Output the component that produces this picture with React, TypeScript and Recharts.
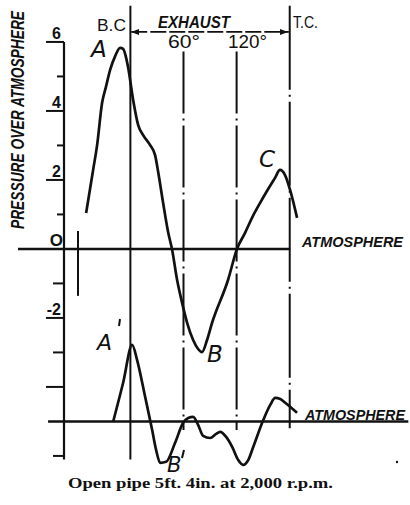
import React from "react";
import { LineChart, Line, XAxis, YAxis, ReferenceLine } from "recharts";

// crank angle in degrees (0 = B.C., 180 = T.C.) and pressure over atmosphere
const upperDeg = [-50, -42.1, -37.6, -32, -27.4, -22.9, -17.2, -11.6, -8.2, -4.8, -2.5, 3.1, 8.8, 14.4, 22.3, 27.9, 31.4, 37, 42.6, 47.2, 52.8, 58.5, 64.1, 70.9, 76.5, 81, 86.6, 92.3, 110.3, 120.4, 129.4, 138.5, 146.4, 154.3, 163.4, 169, 174.7, 180.4, 188.3];
const upperP = [1.04, 2.29, 3.01, 4.23, 4.72, 5.19, 5.59, 5.83, 5.8, 5.54, 5.25, 4.32, 3.59, 3.3, 3.01, 2.72, 2.23, 1.33, 0.49, -0.03, -0.9, -1.57, -2.14, -2.64, -2.9, -2.99, -2.64, -2.14, -0.9, 0, 0.46, 0.96, 1.33, 1.68, 2.06, 2.29, 2.14, 1.71, 0.9];

// lower diagram (its atmosphere line sits at -5 on the same scale)
const lowerDeg = [-19.5, -8.2, 2, 7.6, 16.7, 24.6, 29.1, 33.6, 40.4, 50.5, 59.6, 65.3, 70.9, 76.5, 82.2, 90.1, 96.9, 101.4, 108.2, 115, 121.8, 127.4, 133.1, 138.8, 150.1, 158, 163.6, 169.3, 174.9, 188.3];
const lowerP = [-5.01, -3.88, -2.78, -3.22, -4.29, -5.25, -5.83, -6.2, -6.17, -5.62, -5.04, -4.9, -4.87, -5.1, -5.42, -5.48, -5.36, -5.3, -5.45, -5.74, -6.12, -6.26, -6.12, -5.74, -4.96, -4.52, -4.32, -4.35, -4.46, -4.75];

const yTicks = [6, 5, 4, 3, 2, 1, 0, -1, -2, -3, -4, -6];
const yTickLabels: Record<string, string> = { "6": "6", "4": "4", "2": "2", "0": "O", "-2": "-2" };
const guideDegs = [60, 120];

const upperData = upperDeg.map((d, i) => ({ deg: d, p: upperP[i] }));
const lowerData = lowerDeg.map((d, i) => ({ deg: d, p: lowerP[i] }));

const W = 410;
const H = 505;
const PLOT_LEFT = 64;
const INK = "#111";

const tickLen = (v: number) => {
  if (v === 0) return 0;
  if (v === 6 || v === 4 || v === 2 || v === -2 || v === -4) return 18;
  if (v === -3 || v === -6 || v === -1) return 11;
  return 7;
};

const YTick = (props: any) => {
  const { y, payload } = props;
  const v = Number(payload.value);
  const len = tickLen(v);
  const label = yTickLabels[String(v)];
  return (
    <g>
      {len > 0 && (
        <line x1={PLOT_LEFT - len} x2={PLOT_LEFT} y1={y} y2={y} stroke={INK} strokeWidth={2} />
      )}
      {label && (
        <text
          x={v === 0 ? 63 : 61}
          y={y - 3}
          textAnchor="end"
          fontFamily="Liberation Sans, Arial, sans-serif"
          fontWeight="bold"
          fontSize={v === 0 ? 17 : 16}
          fill={INK}
        >
          {label}
        </text>
      )}
    </g>
  );
};

const techFont = "Liberation Sans, Arial, sans-serif";
const letterFont = "DejaVu Sans, sans-serif";

export default function App() {
  return (
    <div style={{ position: "absolute", left: 0, top: 0, width: W, height: H, background: "#fff" }}>
      <LineChart width={W} height={H} margin={{ top: 4, right: 107, bottom: 37, left: 4 }}>
        <XAxis type="number" dataKey="deg" domain={[-75, 195]} allowDataOverflow hide />
        <YAxis
          type="number"
          dataKey="p"
          domain={[-6.35, 7.1]}
          allowDataOverflow
          ticks={yTicks}
          interval={0}
          width={60}
          axisLine={false}
          tickLine={false}
          tick={<YTick />}
        />
        {/* left axis */}
        <ReferenceLine segment={[{ x: -75, y: 6 }, { x: -75, y: -6.1 }]} stroke={INK} strokeWidth={2.2} ifOverflow="visible" />
        {/* atmosphere lines */}
        <ReferenceLine segment={[{ x: -127, y: 0 }, { x: 180.5, y: 0 }]} stroke={INK} strokeWidth={2.6} ifOverflow="visible" />
        <ReferenceLine segment={[{ x: -93, y: -5 }, { x: 314, y: -5 }]} stroke={INK} strokeWidth={2.4} ifOverflow="visible" />
        {/* small mark */}
        <ReferenceLine segment={[{ x: -59.2, y: 0.52 }, { x: -59.2, y: -1.36 }]} stroke={INK} strokeWidth={2} ifOverflow="visible" />
        {/* B.C. */}
        <ReferenceLine segment={[{ x: 0, y: 7.05 }, { x: 0, y: -6.1 }]} stroke={INK} strokeWidth={2} ifOverflow="visible" />
        {/* 60 and 120 */}
        {guideDegs.map((d) => (
          <ReferenceLine
            key={d}
            segment={[{ x: d, y: 5.72 }, { x: d, y: -5.25 }]}
            stroke={INK}
            strokeWidth={2}
            strokeDasharray="62 5 2 5"
            ifOverflow="visible"
          />
        ))}
        {/* T.C. */}
        <ReferenceLine
          segment={[{ x: 180, y: 7.05 }, { x: 180, y: -5.2 }]}
          stroke={INK}
          strokeWidth={2}
          strokeDasharray="84 5 2 5"
          ifOverflow="visible"
        />
        {/* exhaust arrow */}
        <ReferenceLine
          segment={[{ x: 1, y: 6.29 }, { x: 179, y: 6.29 }]}
          stroke={INK}
          strokeWidth={1.8}
          strokeDasharray="16 3"
          ifOverflow="visible"
        />
        <Line data={upperData} dataKey="p" type="monotone" stroke={INK} strokeWidth={2.7} dot={false} isAnimationActive={false} />
        <Line data={lowerData} dataKey="p" type="monotone" stroke={INK} strokeWidth={2.7} dot={false} isAnimationActive={false} />
      </LineChart>
      <svg
        width={W}
        height={H}
        style={{ position: "absolute", left: 0, top: 0, pointerEvents: "none" }}
      >
        {/* arrowheads */}
        <polygon points="131,32 139,29 139,35" fill={INK} />
        <polygon points="288,32 280,29 280,35" fill={INK} />
        {/* y title */}
        <g transform="translate(24,120) rotate(-90)">
          <text
            x={0}
            y={0}
            textAnchor="middle"
            fontFamily={techFont}
            fontWeight="bold"
            fontStyle="italic"
            fontSize={18}
            textLength={218}
            lengthAdjust="spacingAndGlyphs"
            fill={INK}
          >
            PRESSURE OVER ATMOSPHERE
          </text>
        </g>
        <text x={97} y={31} fontFamily={techFont} fontSize={17} textLength={29} lengthAdjust="spacingAndGlyphs" fill={INK}>B.C</text>
        <text x={158} y={28} fontFamily={techFont} fontWeight="bold" fontStyle="italic" fontSize={17} textLength={72} lengthAdjust="spacingAndGlyphs" fill={INK}>EXHAUST</text>
        <text x={293} y={28} fontFamily={techFont} fontSize={17} textLength={25} lengthAdjust="spacingAndGlyphs" fill={INK}>T.C.</text>
        <text x={168} y={48} fontFamily={techFont} fontSize={19} textLength={32} lengthAdjust="spacingAndGlyphs" fill={INK}>60°</text>
        <text x={228} y={48} fontFamily={techFont} fontSize={19} textLength={39} lengthAdjust="spacingAndGlyphs" fill={INK}>120°</text>
        <text x={302} y={247} fontFamily={techFont} fontWeight="bold" fontStyle="italic" fontSize={15} textLength={101} lengthAdjust="spacingAndGlyphs" fill={INK}>ATMOSPHERE</text>
        <text x={305} y={420} fontFamily={techFont} fontWeight="bold" fontStyle="italic" fontSize={14} textLength={100} lengthAdjust="spacingAndGlyphs" fill={INK}>ATMOSPHERE</text>
        {/* curve letters */}
        <text x={91} y={57} fontFamily={letterFont} fontStyle="italic" fontSize={23} fill={INK}>A</text>
        <text x={259} y={167} fontFamily={letterFont} fontStyle="italic" fontSize={23} fill={INK}>C</text>
        <text x={207} y={362} fontFamily={letterFont} fontStyle="italic" fontSize={23} fill={INK}>B</text>
        <text x={97} y={350} fontFamily={letterFont} fontStyle="italic" fontSize={22} fill={INK}>A</text>
        <line x1={120} y1={319} x2={119} y2={326} stroke={INK} strokeWidth={2} />
        <text x={167} y={472} fontFamily={letterFont} fontStyle="italic" fontSize={21} fill={INK}>B</text>
        <line x1={184} y1={450} x2={182} y2={458} stroke={INK} strokeWidth={2} />
        <circle cx={397} cy={462} r={1.2} fill={INK} />
        {/* caption */}
        <text
          x={68}
          y={488}
          fontFamily="Liberation Serif, DejaVu Serif, serif"
          fontWeight="bold"
          fontSize={14}
          textLength={265}
          lengthAdjust="spacingAndGlyphs"
          fill={INK}
        >
          Open pipe 5ft. 4in. at 2,000 r.p.m.
        </text>
      </svg>
    </div>
  );
}
